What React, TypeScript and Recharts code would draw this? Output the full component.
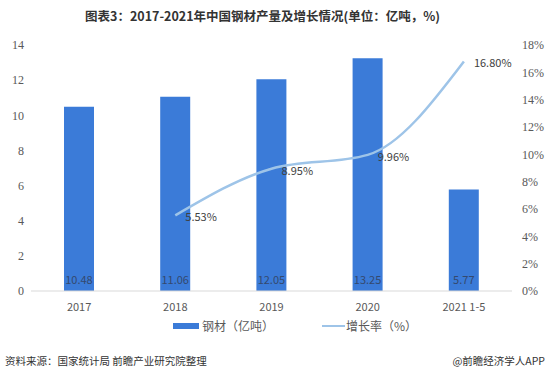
import { ComposedChart, Bar, Line, XAxis, YAxis, LabelList } from "recharts";

const categories = ["2017", "2018", "2019", "2020", "2021 1-5"];
const steelOutput = [10.48, 11.06, 12.05, 13.25, 5.77];
const growthRate = [null, 5.53, 8.95, 9.96, 16.8];
const leftTicks = [0, 2, 4, 6, 8, 10, 12, 14];
const rightTicks = [0, 2, 4, 6, 8, 10, 12, 14, 16, 18];

const data = categories.map((name, i) => ({
  name,
  steel: steelOutput[i],
  rate: growthRate[i],
}));

const BAR_COLOR = "#3b7bd8";
const LINE_COLOR = "#9ec4e8";
const sans = "'Noto Sans CJK SC', 'Noto Sans', sans-serif";
const serif = "'Liberation Serif', 'DejaVu Serif', serif";

function BarValue(props: any) {
  const { x, y, width, height, value } = props;
  return (
    <text x={x + width / 2} y={y + height - 12} textAnchor="middle" dominantBaseline="central" fontSize={11} fill="#34496e" fontFamily={sans}>
      {value.toFixed(2)}
    </text>
  );
}

function RateValue(props: any) {
  const { x, y, value } = props;
  if (value == null) return null;
  return (
    <text x={x + 10} y={y + 1} dominantBaseline="central" fontSize={11} fill="#404040" fontFamily={sans}>
      {value.toFixed(2)}%
    </text>
  );
}

function LegendRow() {
  return (
    <div style={{ position: "absolute", top: 317, left: 173, display: "flex", fontFamily: sans, fontSize: 12, color: "#595959", alignItems: "center" }}>
      <span style={{ display: "inline-block", width: 26, height: 6, background: BAR_COLOR, marginRight: 3 }} />
      <span style={{ marginRight: 48 }}>钢材（亿吨）</span>
      <span style={{ display: "inline-block", width: 23, height: 2, background: LINE_COLOR, marginRight: 1 }} />
      <span>增长率（%）</span>
    </div>
  );
}

export default function App() {
  return (
    <div style={{ position: "relative", width: 550, height: 376, background: "#fff", overflow: "hidden" }}>
      <style>{`body{margin:0}`}</style>
      <div style={{ position: "absolute", top: 6, left: 0, width: 525, textAlign: "center", fontFamily: sans, fontWeight: 700, fontSize: 12.5, color: "#333" }}>
        图表3：2017-2021年中国钢材产量及增长情况(单位：亿吨，%)
      </div>
      <ComposedChart width={550} height={376} data={data} margin={{ top: 45, right: 0, bottom: 60, left: 0 }}>
        <XAxis dataKey="name" height={25} tickLine={false} axisLine={{ stroke: "#d9d9d9" }} tickMargin={6} tick={{ fontSize: 11, fill: "#595959", fontFamily: sans }} interval={0} />
        <YAxis yAxisId="left" width={31} domain={[0, 14]} ticks={leftTicks} tickLine={false} tickSize={0} axisLine={false} tickMargin={7} tick={{ fontSize: 12, fill: "#595959", fontFamily: serif }} />
        <YAxis yAxisId="right" orientation="right" width={38} domain={[0, 18]} ticks={rightTicks} tickFormatter={(v) => `${v}%`} tickLine={false} tickSize={0} axisLine={false} tickMargin={10} tick={{ fontSize: 12, fill: "#595959", fontFamily: serif, textAnchor: "start" }} />
        <Bar yAxisId="left" dataKey="steel" fill={BAR_COLOR} barSize={30} isAnimationActive={false}>
          <LabelList dataKey="steel" content={BarValue} />
        </Bar>
        <Line yAxisId="right" type="monotone" dataKey="rate" stroke={LINE_COLOR} strokeWidth={2.5} dot={false} activeDot={false} connectNulls isAnimationActive={false}>
          <LabelList dataKey="rate" content={RateValue} />
        </Line>
      </ComposedChart>
      <LegendRow />
      <div style={{ position: "absolute", top: 353, left: 5, fontFamily: sans, fontSize: 10.5, color: "#333" }}>
        资料来源：国家统计局 前瞻产业研究院整理
      </div>
      <div style={{ position: "absolute", top: 353, right: 5, fontFamily: sans, fontSize: 10.5, color: "#333" }}>
        @前瞻经济学人APP
      </div>
    </div>
  );
}
